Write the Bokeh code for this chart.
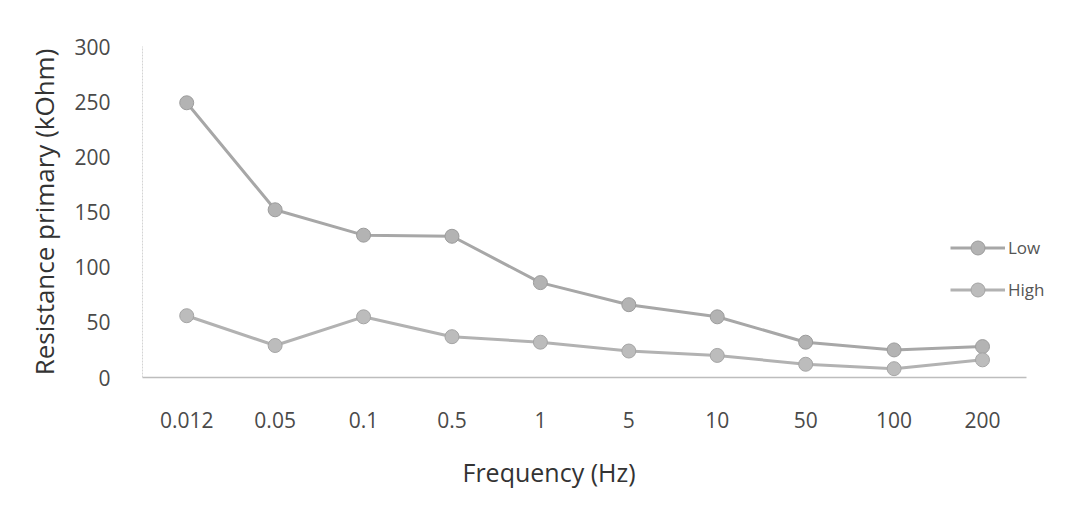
from bokeh.plotting import figure
from bokeh.models import ColumnDataSource, Range1d, Legend, LegendItem, FixedTicker, Title
from bokeh.embed import file_html
from bokeh.resources import INLINE

# Frequency steps (Hz) and primary resistance (kOhm) for the two amplitude levels
frequencies = ["0.012", "0.05", "0.1", "0.5", "1", "5", "10", "50", "100", "200"]
low_values = [249, 152, 129, 128, 86, 66, 55, 32, 25, 28]
high_values = [56, 29, 55, 37, 32, 24, 20, 12, 8, 16]
y_ticks = [0, 50, 100, 150, 200, 250, 300]

# evenly spaced category slots, one per frequency step
slots = list(range(len(frequencies)))
source = ColumnDataSource(data=dict(slot=slots, low=low_values, high=high_values))

FONT = "Open Sans"
TEXT_COLOR = "#4a4a4a"

# the frame runs a little past the last slot so the legend has room on the right
p = figure(
    width=1073, height=510,
    x_range=Range1d(-0.5, len(frequencies) - 0.05),
    y_range=Range1d(0, 300),
    output_backend="svg", toolbar_location=None,
    min_border_left=142, min_border_right=7,
    min_border_top=46, min_border_bottom=133,
)
p.outline_line_color = None
p.xgrid.grid_line_color = None
p.ygrid.grid_line_color = None
p.background_fill_color = "white"
p.border_fill_color = "white"

# series lines with round markers
r_low_line = p.line("slot", "low", source=source, line_color="#a7a7a7", line_width=3)
r_low_pts = p.scatter("slot", "low", source=source, size=14, marker="circle",
                      fill_color="#b3b3b3", line_color="#9c9c9c", line_width=1)
r_high_line = p.line("slot", "high", source=source, line_color="#b2b2b2", line_width=3)
r_high_pts = p.scatter("slot", "high", source=source, size=14, marker="circle",
                       fill_color="#bcbcbc", line_color="#a5a5a5", line_width=1)

# axes
p.xaxis.ticker = FixedTicker(ticks=slots)
p.xaxis.major_label_overrides = {i: f for i, f in zip(slots, frequencies)}
p.xaxis.bounds = (-0.5, len(frequencies) - 0.5)
p.yaxis.ticker = FixedTicker(ticks=y_ticks)
p.yaxis.axis_label = "Resistance primary (kOhm)"
for ax in (p.xaxis[0], p.yaxis[0]):
    ax.major_tick_line_color = None
    ax.minor_tick_line_color = None
    ax.major_label_text_font = FONT
    ax.major_label_text_font_size = "21px"
    ax.major_label_text_color = TEXT_COLOR
    ax.axis_label_text_font = FONT
    ax.axis_label_text_font_style = "normal"
    ax.axis_label_text_color = "#333333"

p.yaxis.axis_label_text_font_size = "26px"

p.xaxis.axis_line_color = "#bdbdbd"
p.xaxis.axis_line_width = 1.5
p.xaxis.major_label_standoff = 28

p.yaxis.axis_line_color = "#d4d4d4"
p.yaxis.axis_line_dash = "2 1"
p.yaxis.major_label_standoff = 26
p.yaxis.axis_label_standoff = 9

# x-axis title sits a bit left of the frame's centre
x_title = Title(
    text="Frequency (Hz)", align="left", offset=320, standoff=44,
    text_font=FONT, text_font_size="25px", text_font_style="normal",
    text_color="#333333",
)
p.add_layout(x_title, "below")

legend = Legend(
    items=[
        LegendItem(label="Low", renderers=[r_low_line, r_low_pts]),
        LegendItem(label="High", renderers=[r_high_line, r_high_pts]),
    ],
    location=(808, 70),
    orientation="vertical",
    glyph_width=55, glyph_height=35,
    label_height=20, spacing=7,
    label_standoff=3, padding=0, margin=0,
    label_text_font=FONT, label_text_font_size="17px",
    label_text_color="#555555",
    border_line_color=None, background_fill_alpha=0,
)
p.add_layout(legend)

open("out.html", "w").write(file_html(p, INLINE))
